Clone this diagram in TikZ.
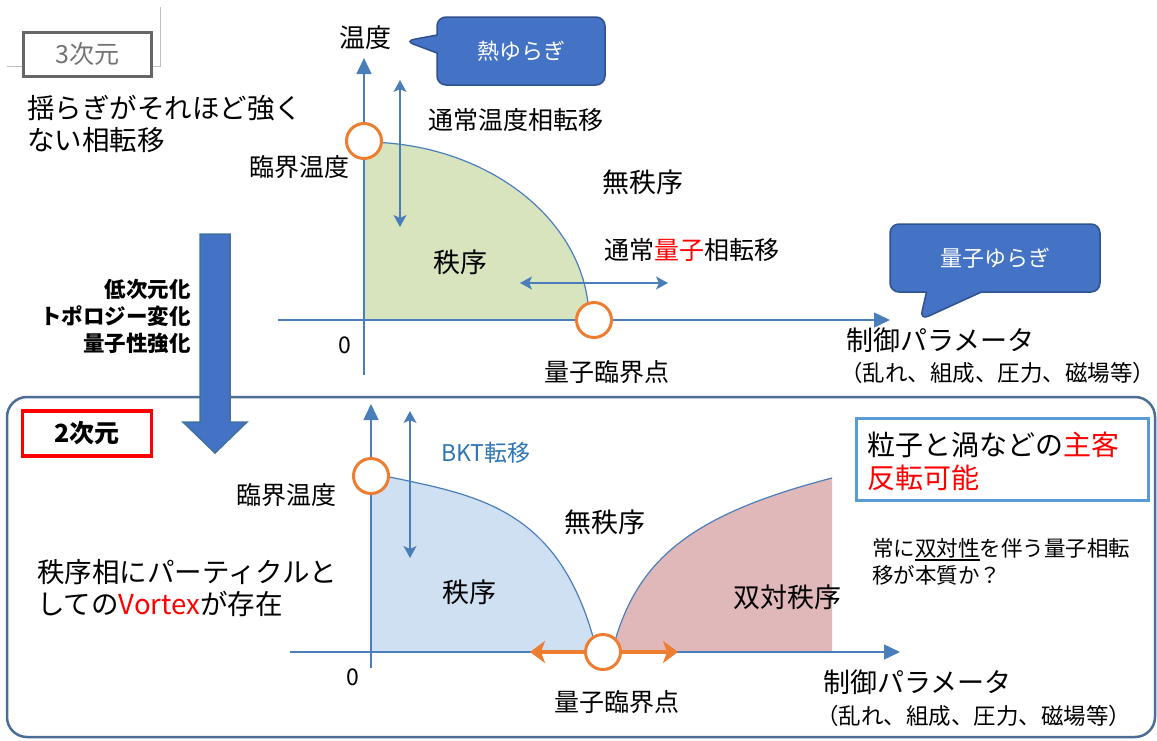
\documentclass[tikz,border=0pt]{standalone}
\usepackage{fontspec}
\setmainfont{Noto Sans CJK JP}
\usetikzlibrary{arrows.meta,shapes.callouts}
\definecolor{axisblue}{HTML}{4A7EBB}
\definecolor{qorange}{HTML}{ED7D31}
\definecolor{callfill}{HTML}{4472C4}
\definecolor{calldraw}{HTML}{2F528F}
\definecolor{greenfill}{HTML}{D7E4BD}
\definecolor{bluefill}{HTML}{CFE0F3}
\definecolor{redfill}{HTML}{E1B8BA}
\definecolor{framecol}{HTML}{4D6E94}
\definecolor{bktblue}{HTML}{2E75B6}
\definecolor{boxblue}{HTML}{5B9BD5}
\definecolor{arrowdraw}{HTML}{41719C}
\newcommand{\myfs}[1]{\fontsize{#1}{#1}\selectfont}
\newcommand{\thickul}[1]{\sbox0{#1}\rlap{\rule[-4pt]{\wd0}{1.3pt}}\usebox0}
\begin{document}
\begin{tikzpicture}[x=1pt,y=-1pt,
  lbl/.style={inner sep=0pt, font=\myfs{25}},
  axis/.style={draw=axisblue, line width=1.5pt, -{Triangle[length=16pt,width=15pt]}},
  trans/.style={draw=axisblue, line width=1.2pt, {Stealth[length=12pt,width=13pt,inset=3pt]}-{Stealth[length=12pt,width=13pt,inset=3pt]}},
  qtrans/.style={draw=qorange, line width=4.5pt, {Stealth[length=15pt,width=22pt,inset=4pt]}-{Stealth[length=15pt,width=22pt,inset=4pt]}},
  critpt/.style={circle, draw=qorange, fill=white, line width=3pt, minimum size=35pt, inner sep=0pt},
  bubble/.style={rectangle callout, fill=callfill, draw=calldraw, line width=1.5pt, rounded corners=9pt, text=white, font=\myfs{22}, inner sep=0pt},
  boundary/.style={draw=axisblue, line width=1.2pt}
]
\useasboundingbox (0,0) rectangle (1157,740);

% ---------- top-left decoration ----------
\coordinate (g1) at (160,7);
\coordinate (g2) at (160,66);
\coordinate (g3) at (7,66);
\draw[black!25, line width=0.8pt] (g1) -- (g2) -- (g3);
\node[draw=black!60, line width=3pt, fill=white, minimum width=128pt, minimum height=44pt, inner sep=0pt,
      text=black!55, font=\myfs{25}] (dim3) at (87.5,54) {3次元};
\node[lbl, align=left, anchor=west, font={\fontsize{27.5}{32}\selectfont}] (weak) at (27,124)
  {揺らぎがそれほど強く\\ない相転移};

% ---------- top phase diagram ----------
\fill[greenfill] (364,142) .. controls (488,142) and (589,222) .. (589,320) -- (364,320) -- cycle;
\draw[boundary] (364,142) .. controls (488,142) and (589,222) .. (589,320);

\coordinate (tyb) at (364,375);
\coordinate (tyt) at (364,58);
\coordinate (txl) at (278,320);
\coordinate (txr) at (890,320);
\draw[axis] (tyb) -- (tyt);
\draw[axis] (txl) -- (txr);

\coordinate (tta) at (400,80);
\coordinate (ttb) at (400,227);
\draw[trans] (tta) -- (ttb);
\coordinate (tqa) at (520,283);
\coordinate (tqb) at (668,283);
\draw[trans] (tqa) -- (tqb);

\node[critpt] (tc1) at (364,141) {};
\node[critpt] (qcp1) at (594,320) {};

\node[lbl, font=\myfs{26}] (temp) at (365,38) {温度};
\node[bubble, minimum width=168pt, minimum height=68pt, callout absolute pointer={(405,41)}, callout pointer width=18pt] (thermal) at (521,51) {熱ゆらぎ};
\node[lbl] (normT) at (516,120) {通常温度相転移};
\node[lbl] (tclab1) at (299,167) {臨界温度};
\node[lbl, font=\myfs{27}] (dis1) at (643,182) {無秩序};
\node[lbl, font=\myfs{27}] (ord1) at (460,262) {秩序};
\node[lbl] (normQ) at (692,250) {通常\textcolor{red}{量子}相転移};
\node[lbl, font=\myfs{23}] (zero1) at (345,345) {0};
\node[lbl] (qcplab1) at (607,372) {量子臨界点};
\node[bubble, minimum width=210pt, minimum height=68pt, callout absolute pointer={(920,320)}, callout pointer width=55pt] (quantum) at (995,258) {量子ゆらぎ};
\node[lbl, font=\myfs{27}, anchor=west] (ctrl1) at (846,340) {制御パラメータ};
\node[lbl, font=\myfs{22.5}, anchor=west] (ctrlx1) at (840,373) {（乱れ、組成、圧力、磁場等）};

% ---------- bottom frame ----------
\draw[framecol, line width=2.5pt, rounded corners=20pt] (7,397) rectangle (1155,737);

% ---------- big arrow ----------
\filldraw[fill=callfill, draw=arrowdraw, line width=1.5pt]
  (200,234) -- (230,234) -- (230,422) -- (247,422) -- (215,453) -- (183,422) -- (200,422) -- cycle;
\node[lbl, align=right, anchor=east, font={\fontsize{21.5}{27}\selectfont\bfseries}] (change) at (191,316)
  {低次元化\\トポロジー変化\\量子性強化};

% ---------- bottom phase diagram ----------
\fill[bluefill] (371,473) .. controls (470,495) and (560,500) .. (597,652) -- (371,652) -- cycle;
\fill[redfill] (612,652) .. controls (635,560) and (690,515) .. (832,478) -- (832,652) -- cycle;
\draw[boundary] (371,473) .. controls (470,495) and (560,500) .. (597,652);
\draw[boundary] (612,652) .. controls (635,560) and (690,515) .. (832,478);

\coordinate (byb) at (371,668);
\coordinate (byt) at (371,404);
\coordinate (bxl) at (290,652);
\coordinate (bxr) at (900,652);
\draw[axis] (byb) -- (byt);
\draw[axis] (bxl) -- (bxr);

\coordinate (bta) at (410,411);
\coordinate (btb) at (410,558);
\draw[trans] (bta) -- (btb);
\coordinate (bqa) at (530,652);
\coordinate (bqb) at (678,652);
\draw[qtrans] (bqa) -- (bqb);

\node[critpt] (tc2) at (371,476) {};
\node[critpt] (qcp2) at (603,652) {};

\node[draw=red, line width=3.5pt, minimum width=129pt, minimum height=45pt, inner sep=0pt,
      font=\myfs{25}\bfseries] (dim2) at (87,433.5) {2次元};
\node[lbl, font=\myfs{23}, text=bktblue] (bkt) at (486,453) {BKT転移};
\node[lbl] (tclab2) at (286,495) {臨界温度};
\node[lbl, font=\myfs{27}] (dis2) at (605,522) {無秩序};
\node[lbl, font=\myfs{27}] (ord2) at (469,592) {秩序};
\node[lbl, font=\myfs{27}] (dual) at (787,597) {双対秩序};
\node[lbl, font=\myfs{23}] (zero2) at (353,677) {0};
\node[lbl] (qcplab2) at (617,702) {量子臨界点};
\node[lbl, font=\myfs{27}, anchor=west] (ctrl2) at (823,682) {制御パラメータ};
\node[lbl, font=\myfs{22.5}, anchor=west] (ctrlx2) at (816,716) {（乱れ、組成、圧力、磁場等）};

\node[lbl, align=left, anchor=west, font={\fontsize{27.5}{32}\selectfont}] (vortex) at (37,588)
  {秩序相にパーティクルと\\しての\textcolor{red}{Vortex}が存在};

\node[draw=boxblue, line width=3pt, fill=white, minimum width=292pt, minimum height=82pt, inner sep=0pt] (swapbox) at (1002,459) {};
\node[lbl, align=left, anchor=west, font={\fontsize{28}{33}\selectfont}] (swap) at (867,461)
  {粒子と渦などの\textcolor{red}{主客}\\\textcolor{red}{反転可能}};
\node[lbl, align=left, anchor=west, font={\fontsize{21.5}{27}\selectfont}] (duality) at (872,562)
  {常に\thickul{双対性}を伴う量子相転\\移が本質か？};
\end{tikzpicture}
\end{document}
